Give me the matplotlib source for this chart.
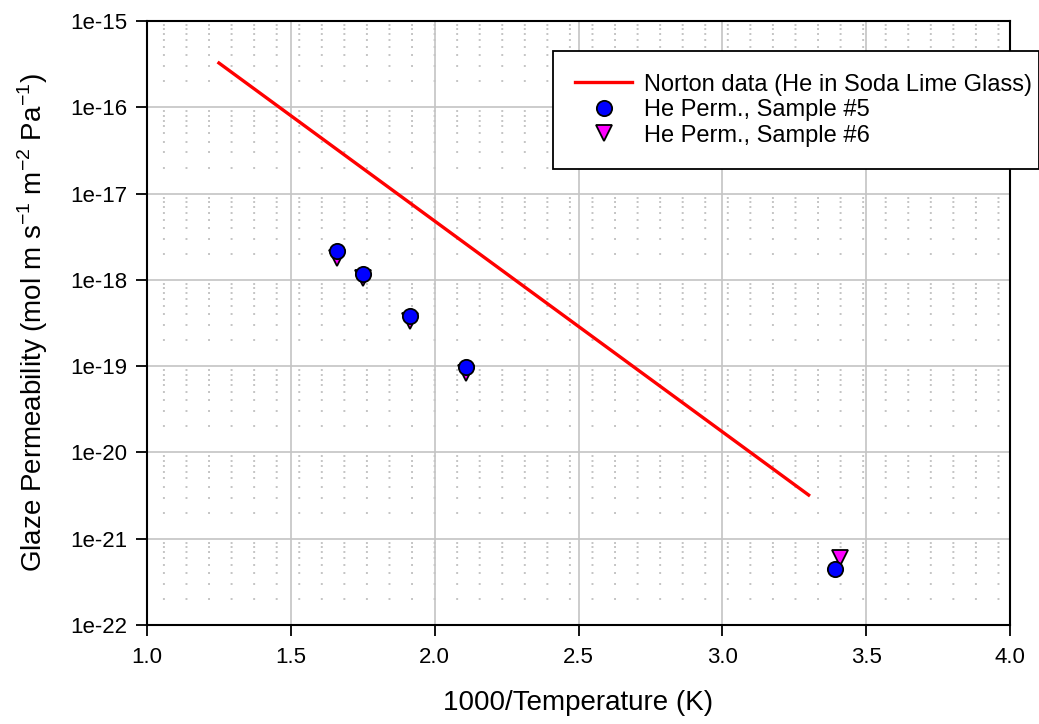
import matplotlib.pyplot as plt
import numpy as np

plt.rcParams['font.family'] = ['Liberation Sans', 'DejaVu Sans']

# ------------------ Data ------------------
norton_x = [1.25, 3.30]
norton_y = [3.26e-16, 3.21e-21]

s5_x = [1.66, 1.75, 1.915, 2.11, 3.39]
s5_y = [2.16e-18, 1.17e-18, 3.81e-19, 9.8e-20, 4.46e-22]

s6_x = [1.66, 1.75, 1.915, 2.11, 3.41]
s6_y = [1.80e-18, 1.06e-18, 3.35e-19, 8.3e-20, 5.98e-22]

# ------------------ Plotting ------------------
fig = plt.figure(figsize=(10.39, 7.24), dpi=100)
ax = fig.add_axes([0.1415, 0.1367, 0.8306, 0.8343])

ax.set_yscale('log')
ax.set_xlim(1.0, 4.0)
ax.set_ylim(1e-22, 1e-15)

# grid: solid major lines, sparse dashed minor horizontal lines
for xv in np.arange(1.5, 4.0, 0.5):
    ax.axvline(xv, color='#c4c4c4', lw=1.2, zorder=0)
for e in range(-21, -15):
    ax.axhline(10.0 ** e, color='#c4c4c4', lw=1.2, zorder=0)
for e in range(-22, -15):
    for m in range(2, 10):
        ax.axhline(m * 10.0 ** e, color='#c4c4c4', lw=1.4,
                   linestyle=(3.4, (1.0, 10.6)), zorder=0)

ax.plot(norton_x, norton_y, color='red', lw=2.4,
        label="Norton data (He in Soda Lime Glass)", zorder=3)
ax.plot(s5_x, s5_y, linestyle='none', marker='o', markersize=11,
        markerfacecolor='blue', markeredgecolor='black', markeredgewidth=1.3,
        label="He Perm., Sample #5", zorder=5)
ax.plot(s6_x, s6_y, linestyle='none', marker='v', markersize=11,
        markerfacecolor='magenta', markeredgecolor='black', markeredgewidth=1.3,
        label="He Perm., Sample #6", zorder=4)

ax.set_xticks([1.0, 1.5, 2.0, 2.5, 3.0, 3.5, 4.0])
ax.set_xticklabels(["1.0", "1.5", "2.0", "2.5", "3.0", "3.5", "4.0"])
yt = [10.0 ** e for e in range(-22, -14)]
ax.set_yticks(yt)
ax.set_yticklabels([f"1e{e}" for e in range(-22, -14)])
ax.minorticks_off()
ax.tick_params(axis='both', direction='out', length=8, width=1.3,
               labelsize=16, pad=6)
ax.tick_params(axis='x', pad=8)

for s in ax.spines.values():
    s.set_linewidth(1.5)

ax.set_xlabel("1000/Temperature (K)", fontsize=20, labelpad=16)
ax.set_ylabel("Glaze Permeability (mol m s$^{\\mathregular{-1}}$ m$^{\\mathregular{-2}}$ Pa$^{\\mathregular{-1}}$)",
              fontsize=20, labelpad=15)

leg = ax.legend(loc='upper left', bbox_to_anchor=(0.4705, 0.762, 0.563, 0.188),
                mode='expand', fontsize=17, frameon=True, fancybox=False,
                borderpad=0.95, labelspacing=0.15, handlelength=2.4,
                handletextpad=0.5, borderaxespad=0)
leg.get_frame().set_edgecolor('black')
leg.get_frame().set_linewidth(1.3)
leg.get_frame().set_alpha(1)

fig.savefig("out.png", dpi=100)
